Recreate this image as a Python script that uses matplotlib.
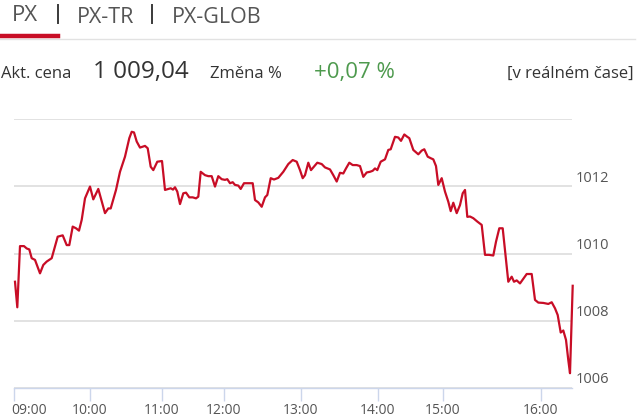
import matplotlib.pyplot as plt
from matplotlib.lines import Line2D
from matplotlib.transforms import ScaledTranslation

plt.rcParams['font.family'] = ['Open Sans', 'DejaVu Sans']

# position along the (ordinal) time axis and index value
pos = [1, 3.3, 6, 10, 12.7, 15.3, 17.7, 21, 26, 29.3, 32.7, 37.7, 43.7, 48.7,
       52.7, 55.3, 58.7, 62, 65, 67.7, 71, 76, 79.3, 84.3, 91, 94.3, 96.7,
       102, 106, 111, 115.3, 117.7, 120, 122.7, 126, 131, 133.7, 136.7, 139.3,
       143.3, 148, 151, 154.3, 156.7, 159, 161, 163.3, 166, 169.3, 172, 175.3,
       178.7, 182, 184.3, 186.7, 191, 194.3, 197.7, 201, 204.3, 207.7, 211,
       213.3, 216, 218.7, 221, 224.3, 226.7, 230, 233.3, 238.7, 241, 244.3,
       247.7, 251, 253.3, 256.7, 260, 264.3, 269.3, 274.3, 278.7, 282.7, 286,
       288.7, 291, 294.3, 297, 299.3, 303.3, 307.7, 311, 316, 319.3, 322.7,
       326, 329.3, 332, 335.3, 338.7, 342.7, 346, 349.3, 352.7, 356, 358.7,
       361, 363.3, 366.7, 371, 374.3, 376.7, 381, 384.3, 387, 390.3, 393.3,
       395.3, 399.3, 404.3, 407.7, 410.3, 413.7, 417, 419.3, 422, 424.3, 427.7,
       431, 434.3, 436.7, 439.3, 442.7, 446, 448.7, 451, 453.3, 456, 459.3,
       463.3, 467.7, 471, 475, 479.3, 482, 485.3, 488.7, 494.3, 497.7, 500,
       502.7, 506, 509.3, 512.7, 517.7, 521, 524.3, 529.3, 534.3, 537.7, 541,
       543.7, 546.7, 549.3, 552, 554.3, 556, 558.7]
px = [1009.16, 1008.40, 1010.22, 1010.22, 1010.15, 1010.12, 1009.86, 1009.81,
      1009.41, 1009.66, 1009.76, 1009.86, 1010.50, 1010.54, 1010.25, 1010.25,
      1010.80, 1010.75, 1010.68, 1011.00, 1011.64, 1011.99, 1011.61, 1011.92,
      1011.20, 1011.34, 1011.34, 1011.89, 1012.43, 1012.88, 1013.43, 1013.62,
      1013.60, 1013.33, 1013.15, 1013.20, 1013.13, 1012.58, 1012.48, 1012.73,
      1012.75, 1011.89, 1011.92, 1011.94, 1011.90, 1011.97, 1011.84, 1011.47,
      1011.79, 1011.81, 1011.67, 1011.67, 1011.64, 1011.69, 1012.43, 1012.33,
      1012.30, 1012.30, 1011.99, 1012.30, 1012.21, 1012.19, 1012.21, 1012.09,
      1012.12, 1012.04, 1012.02, 1011.92, 1012.09, 1012.09, 1012.09, 1011.59,
      1011.52, 1011.39, 1011.67, 1011.74, 1012.24, 1012.20, 1012.25, 1012.43,
      1012.66, 1012.78, 1012.73, 1012.48, 1012.24, 1012.33, 1012.70, 1012.48,
      1012.56, 1012.70, 1012.66, 1012.56, 1012.50, 1012.33, 1012.14, 1012.40,
      1012.38, 1012.53, 1012.70, 1012.63, 1012.63, 1012.60, 1012.28, 1012.41,
      1012.43, 1012.46, 1012.53, 1012.48, 1012.73, 1012.80, 1013.08, 1013.10,
      1013.47, 1013.45, 1013.35, 1013.54, 1013.47, 1013.43, 1013.08, 1012.95,
      1013.06, 1013.10, 1012.88, 1012.83, 1012.80, 1012.60, 1012.04, 1012.24,
      1011.84, 1011.54, 1011.26, 1011.51, 1011.20, 1011.44, 1011.79, 1011.89,
      1011.09, 1011.10, 1011.05, 1010.95, 1010.85, 1009.96, 1009.96, 1009.94,
      1010.35, 1010.75, 1010.75, 1009.16, 1009.31, 1009.16, 1009.20, 1009.11,
      1009.25, 1009.39, 1009.39, 1008.62, 1008.54, 1008.53, 1008.50, 1008.55,
      1008.37, 1008.17, 1007.65, 1007.71, 1007.43, 1006.83, 1006.44, 1009.04]

hour_pos = [0, 76, 148, 210, 287, 364, 429, 527]
hour_labels = ["09:00", "10:00", "11:00", "12:00", "13:00", "14:00", "15:00", "16:00"]
y_ticks = [1006, 1008, 1010, 1012, 1014]
y_labels = ["1006", "1008", "1010", "1012", ""]

tabs = ["PX", "PX-TR", "PX-GLOB"]
price = "1 009,04"
change = "+0,07 %"

red = "#c80d26"

fig = plt.figure(figsize=(6.4, 4.2), dpi=100)
W, H = 640, 420

def fx(x):
    return x / W

def fy(y):
    return 1 - y / H

# header tabs
fig.text(fx(12), fy(21), tabs[0], fontsize=16, color="#555555", va="baseline")
fig.text(fx(77), fy(23), tabs[1], fontsize=15.5, color="#555555", va="baseline")
fig.text(fx(172), fy(23), tabs[2], fontsize=15.5, color="#555555", va="baseline")
for sx in (58, 152):
    fig.add_artist(Line2D([fx(sx), fx(sx)], [fy(5), fy(23)], color="#3a3a3a", lw=1.4))
fig.add_artist(Line2D([fx(0), fx(635)], [fy(39), fy(39)], color="#e2e2e2", lw=1))
fig.add_artist(Line2D([fx(0), fx(58)], [fy(36), fy(36)], color=red, lw=3.2))

# price row
fig.text(fx(1), fy(78), "Akt. cena", fontsize=12, color="#333333", va="baseline")
fig.text(fx(93), fy(78), price, fontsize=17.5, color="#333333", va="baseline")
fig.text(fx(210), fy(78), "Změna %", fontsize=12, color="#333333", va="baseline")
fig.text(fx(314), fy(78), change, fontsize=16, color="#4e9a4e", va="baseline")
fig.text(fx(634), fy(78), "[v reálném čase]", fontsize=12, color="#333333",
         va="baseline", ha="right")

# chart
ax = fig.add_axes([fx(14), fy(388), fx(572 - 14), (388 - 119) / H])
ax.plot(pos, px, color=red, lw=1.6, clip_on=False, solid_joinstyle="round", zorder=3)
ax.set_xlim(0, 558)
ax.set_ylim(1006, 1014)

for s in ("top", "left", "right"):
    ax.spines[s].set_visible(False)
ax.spines["bottom"].set_color("#ccd6eb")
ax.spines["bottom"].set_linewidth(1)

ax.set_yticks(y_ticks)
ax.set_yticklabels(y_labels)
ax.yaxis.tick_right()
ax.tick_params(axis="y", length=0, pad=3, labelsize=10.5, labelcolor="#555555")
ax.grid(axis="y", color="#dddddd", lw=1.2)
ax.set_axisbelow(True)
for lab in ax.get_yticklabels():
    lab.set_verticalalignment("bottom")
    lab.set_transform(lab.get_transform() + ScaledTranslation(0, 0.5 / 72, fig.dpi_scale_trans))

ax.set_xticks(hour_pos)
ax.set_xticklabels(hour_labels)
ax.tick_params(axis="x", length=9, width=1, color="#ccd6eb", pad=2,
               labelsize=10, labelcolor="#555555")
xl = ax.get_xticklabels()
xl[0].set_horizontalalignment("left")
xl[0].set_transform(xl[0].get_transform() + ScaledTranslation(-2 / 72, 0, fig.dpi_scale_trans))

fig.savefig("out.png", dpi=100)
